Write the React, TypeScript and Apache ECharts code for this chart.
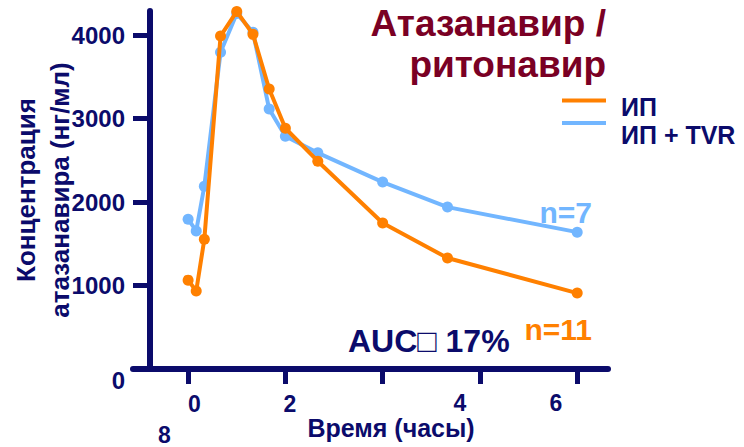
import React, { useEffect, useRef } from 'react';
import * as echarts from 'echarts';

// ---- data ----
const times = [0, 0.5, 1, 2, 3, 4, 5, 6, 8, 12, 16, 24];
const ipValues = [1065, 935, 1555, 3990, 4285, 4010, 3355, 2885, 2490, 1750, 1330, 910];
const ipTvrValues = [1795, 1655, 2190, 3795, 4260, 4035, 3115, 2790, 2590, 2240, 1940, 1640];
const seriesNames = ['ИП', 'ИП + TVR'];
const yTicks = [0, 1000, 2000, 3000, 4000];
const xTicks = [0, 6, 12, 18, 24];
const xTickLabels = ['0', '2', '4', '6', '8'];
const titleLines = ['Атазанавир /', 'ритонавир'];
const yAxisName = ['Концентрация', 'атазанавира (нг/мл)'];
const xAxisName = 'Время (часы)';
const nLabels = ['n=11', 'n=7'];
const aucLabel = 'AUC□ 17%';

// ---- styles ----
const NAVY = '#0b0b6b';
const ORANGE = '#ff8000';
const BLUE = '#72b6ff';
const TITLE = '#7a0024';
const FF = '"Liberation Sans", Arial, sans-serif';

const xTickLabelPos = [
  [194.5, 404],
  [290, 404],
  [460, 403],
  [556, 403],
  [164.5, 434.5],
];

export default function App() {
  const ref = useRef<HTMLDivElement>(null);
  useEffect(() => {
    if (!ref.current) return;
    const chart = echarts.init(ref.current, undefined, { renderer: 'svg' });
    const txt = (text: string, x: number, y: number, size: number, color: string, align = 'center') => ({
      type: 'text',
      x,
      y,
      style: {
        text,
        fill: color,
        fontSize: size,
        fontWeight: 'bold',
        fontFamily: FF,
        align,
        verticalAlign: 'middle',
      },
    });
    const legendText = {
      color: NAVY,
      fontSize: 25,
      fontWeight: 'bold',
      fontFamily: FF,
      rich: {
        a: { color: NAVY, fontSize: 25, fontWeight: 'bold', fontFamily: FF, padding: [0, 0, 0, 10] },
      },
    };
    // legend icon: a 44x4 bar at the top of a taller (invisible) box, so the label sits lower than the bar
    const barIcon = (h: number) => `path://M0,0 L44,0 L44,4 L0,4 Z M0,${h} L0.01,${h} Z`;
    const option: any = {
      animation: false,
      backgroundColor: '#ffffff',
      grid: { left: 133, right: 136, top: 11, bottom: 78, containLabel: false, outerBoundsMode: 'none' },
      xAxis: {
        type: 'value',
        min: -3.4,
        max: 25.9,
        axisLine: { show: true, onZero: false, lineStyle: { color: NAVY, width: 6 } },
        axisTick: { show: true, customValues: xTicks, length: 15, lineStyle: { color: NAVY, width: 5 } },
        axisLabel: { show: false },
        splitLine: { show: false },
      },
      yAxis: {
        type: 'value',
        min: 0,
        max: 4290,
        interval: 1000,
        offset: -17,
        axisLine: { show: true, onZero: false, lineStyle: { color: NAVY, width: 6 } },
        axisTick: { show: true, customValues: yTicks, length: 17, lineStyle: { color: NAVY, width: 5 } },
        axisLabel: {
          customValues: yTicks,
          margin: 25,
          color: NAVY,
          fontSize: 24,
          fontWeight: 'bold',
          fontFamily: FF,
          formatter: (v: number) => (v === 0 ? '{z|0}' : String(v)),
          rich: { z: { padding: [23, 0, 0, 0], color: NAVY, fontSize: 24, fontWeight: 'bold', fontFamily: FF } },
        },
        splitLine: { show: false },
        name: yAxisName.join('\n'),
        nameLocation: 'middle',
        nameRotate: 90,
        nameGap: 73,
        nameMoveOverlap: false,
        nameTextStyle: { color: NAVY, fontSize: 26, fontWeight: 'bold', fontFamily: FF, lineHeight: 34 },
      },
      legend: [
        {
          data: [seriesNames[0]],
          left: 562,
          top: 94,
          padding: 0,
          selectedMode: false,
          icon: barIcon(16),
          itemWidth: 44,
          itemHeight: 16,
          formatter: (n: string) => `{a|${n}}`,
          textStyle: legendText,
        },
        {
          data: [seriesNames[1]],
          left: 562,
          top: 121,
          padding: 0,
          selectedMode: false,
          icon: barIcon(28),
          itemWidth: 44,
          itemHeight: 28,
          formatter: (n: string) => `{a|${n}}`,
          textStyle: legendText,
        },
      ],
      series: [
        {
          name: seriesNames[1],
          type: 'line',
          data: times.map((t, i) => [t, ipTvrValues[i]]),
          symbol: 'circle',
          symbolSize: 11,
          clip: false,
          z: 2,
          lineStyle: { color: BLUE, width: 4 },
          itemStyle: { color: BLUE },
        },
        {
          name: seriesNames[0],
          type: 'line',
          data: times.map((t, i) => [t, ipValues[i]]),
          symbol: 'circle',
          symbolSize: 11,
          clip: false,
          z: 3,
          lineStyle: { color: ORANGE, width: 4 },
          itemStyle: { color: ORANGE },
        },
      ],
      graphic: [
        txt(titleLines[0], 606, 23, 37, TITLE, 'right'),
        txt(titleLines[1], 606, 64, 37, TITLE, 'right'),
        txt(nLabels[1], 592, 212, 30, BLUE, 'right'),
        txt(nLabels[0], 592, 329.5, 30, ORANGE, 'right'),
        txt(aucLabel, 348, 340.5, 32, NAVY, 'left'),
        txt(xAxisName, 391, 428, 25, NAVY, 'center'),
        ...xTickLabels.map((l, i) => txt(l, xTickLabelPos[i][0], xTickLabelPos[i][1], 23, NAVY, 'center')),
      ],
    };
    chart.setOption(option);
    return () => chart.dispose();
  }, []);
  return (
    <div
      ref={ref}
      style={{ position: 'fixed', left: 0, top: 0, width: 744, height: 447, background: '#fff' }}
    />
  );
}
